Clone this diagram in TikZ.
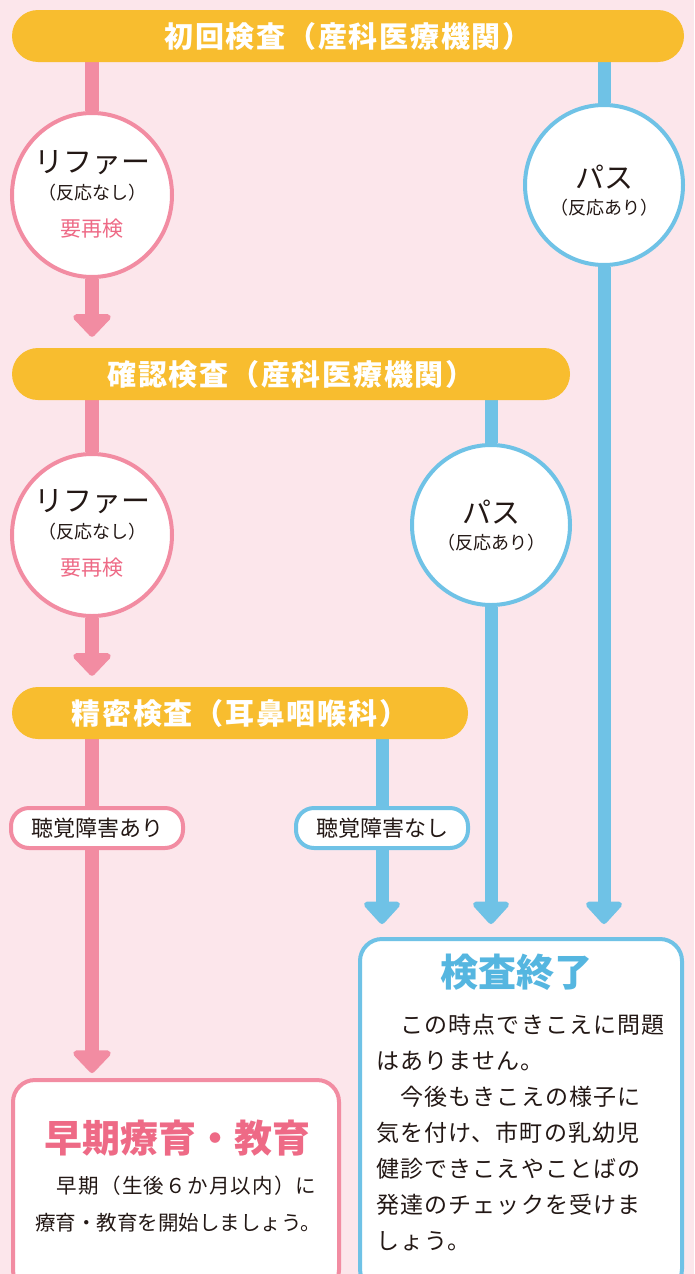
\documentclass[tikz,border=0pt]{standalone}
\usepackage{fontspec}
\setmainfont{Noto Sans CJK JP}
\newfontfamily\jpbar[LetterSpace=6]{Noto Sans CJK JP}
\newfontfamily\jpbody[LetterSpace=5]{Noto Sans CJK JP}
\usetikzlibrary{arrows.meta,shapes.geometric}
\definecolor{bgP}{HTML}{FCE6EB}
\definecolor{barY}{HTML}{F8BD2F}
\definecolor{lineP}{HTML}{F28CA2}
\definecolor{lineB}{HTML}{6FC2E6}
\definecolor{txtP}{HTML}{EE6A86}
\definecolor{txtB}{HTML}{55B6E0}
\definecolor{ink}{HTML}{231815}
\pgfdeclarelayer{back}
\pgfdeclarelayer{lines}
\pgfsetlayers{back,lines,main}
\begin{document}
\begin{tikzpicture}[x=1pt,y=-1pt,
  bar/.style={fill=barY, rounded corners=26pt, minimum height=52pt, inner sep=0pt, text=white, font=\jpbar\fontsize{29}{29}\selectfont\bfseries},
  ring/.style={ellipse, line width=4pt, fill=white, inner sep=0pt},
  big/.style={text=ink, inner sep=0pt, font=\fontsize{29}{29}\selectfont},
  small/.style={text=ink, inner sep=0pt, font=\fontsize{18}{18}\selectfont},
  redo/.style={text=txtP, inner sep=0pt, font=\fontsize{21}{21}\selectfont},
  lab/.style={line width=4pt, fill=white, rounded corners=18pt, minimum height=40pt, minimum width=172pt, inner sep=0pt, text=ink, font=\fontsize{22}{22}\selectfont},
  box/.style={rounded corners=22pt, line width=4pt, fill=white},
  title/.style={inner sep=0pt, font=\fontsize{38}{38}\selectfont\bfseries},
  body/.style={inner sep=0pt, align=left, text=ink},
  pline/.style={draw=lineP, line width=14pt},
  bline/.style={draw=lineB, line width=13pt},
  parrow/.style={pline, -{Triangle[width=44pt,length=24pt,round]}},
  barrow/.style={bline, -{Triangle[width=42pt,length=24pt,round]}}
]
\useasboundingbox (0,0) rectangle (694,1274);
\clip (0,0) rectangle (694,1274);
\begin{pgfonlayer}{back}
\fill[bgP] (0,0) rectangle (694,1274);
\end{pgfonlayer}

% bars
\node[bar, minimum width=672pt] (b1) at (348,36) {初回検査（産科医療機関）};
\node[bar, minimum width=558pt] (b2) at (291,374) {確認検査（産科医療機関）};
\node[bar, minimum width=456pt] (b3) at (240,713) {精密検査（耳鼻咽喉科）};

% circles
\node[ring, draw=lineP, minimum width=160pt, minimum height=164pt] (r1) at (92,195) {};
\node[big] (r1a) at (92,163) {リファー};
\node[small] (r1b) at (92,193) {（反応なし）};
\node[redo] (r1c) at (92,229) {要再検};

\node[ring, draw=lineB, minimum width=158pt, minimum height=160pt] (p1) at (604,185) {};
\node[big] (p1a) at (604,177) {パス};
\node[small] (p1b) at (604,208) {（反応あり）};

\node[ring, draw=lineP, minimum width=160pt, minimum height=162pt] (r2) at (92,535) {};
\node[big] (r2a) at (92,502) {リファー};
\node[small] (r2b) at (92,532) {（反応なし）};
\node[redo] (r2c) at (92,568) {要再検};

\node[ring, draw=lineB, minimum width=158pt, minimum height=160pt] (p2) at (491,525) {};
\node[big] (p2a) at (491,512) {パス};
\node[small] (p2b) at (491,543) {（反応あり）};

% labels
\node[lab, draw=lineP] (l1) at (97,828) {聴覚障害あり};
\node[lab, draw=lineB] (l2) at (382,828) {聴覚障害なし};

% result boxes
\node[box, draw=lineB, minimum width=322pt, minimum height=352pt] (e1) at (521,1115) {};
\node[title, text=txtB] (e1t) at (516,972) {検査終了};
\node[body, anchor=west, font=\jpbody\fontsize{23}{36}\selectfont] (e1b) at (376,1133)
 {　この時点できこえに問題\\はありません。\\　今後もきこえの様子に\\気を付け、市町の乳幼児\\健診できこえやことばの\\発達のチェックを受けま\\しょう。};

\node[box, draw=lineP, minimum width=326pt, minimum height=212pt] (e2) at (176,1186) {};
\node[title, text=txtP] (e2t) at (177,1138) {早期療育・教育};
\node[body, anchor=west, font=\fontsize{20.5}{37}\selectfont] (e2b) at (35,1204)
 {{\addfontfeature{LetterSpace=6}　早期（生後６か月以内）に}\\療育・教育を開始しましょう。};

% connectors
\begin{pgfonlayer}{lines}
\draw[pline] (b1.south -| r1) -- (r1.north);
\draw[parrow, shorten >=11pt] (r1.south) -- (b2.north -| r1);
\draw[bline] (b1.south -| p1) -- (p1.north);
\draw[barrow, shorten >=13pt] (p1.south) -- (e1.north -| p1);
\draw[pline] (b2.south -| r2) -- (r2.north);
\draw[parrow, shorten >=11pt] (r2.south) -- (b3.north -| r2);
\draw[bline] (b2.south -| p2) -- (p2.north);
\draw[barrow, shorten >=13pt] (p2.south) -- (e1.north -| p2);
\draw[parrow, shorten >=5pt] (b3.south -| r2) -- (e2.north -| r2);
\draw[barrow, shorten >=13pt] (b3.south -| l2) -- (e1.north -| l2);
\end{pgfonlayer}
\end{tikzpicture}
\end{document}
